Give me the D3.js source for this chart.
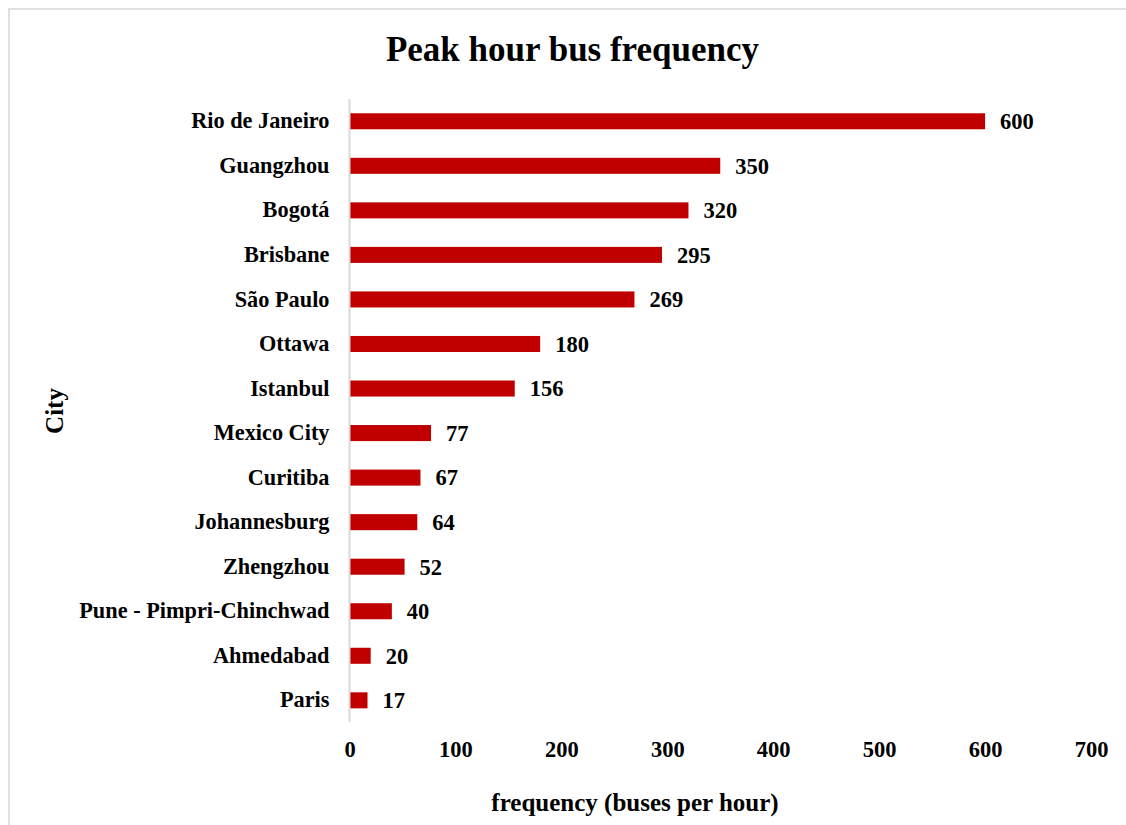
<!DOCTYPE html>
<html>
<head>
<meta charset="utf-8">
<script src="https://cdn.jsdelivr.net/npm/d3@7"></script>
<style>
  html, body { margin: 0; padding: 0; background: #fff; }
  svg { display: block; }
  text { font-family: "Liberation Serif", "Times New Roman", serif; font-weight: bold; fill: #000; }
</style>
</head>
<body>
<script>
const cities = ["Rio de Janeiro","Guangzhou","Bogotá","Brisbane","São Paulo","Ottawa","Istanbul","Mexico City","Curitiba","Johannesburg","Zhengzhou","Pune - Pimpri-Chinchwad","Ahmedabad","Paris"];
const frequency = [600,350,320,295,269,180,156,77,67,64,52,40,20,17];
const xTicks = [0,100,200,300,400,500,600,700];
const titleText = "Peak hour bus frequency";
const xTitle = "frequency (buses per hour)";
const yTitle = "City";

const W = 1126, H = 825;
const svg = d3.select("body").append("svg").attr("width", W).attr("height", H);

// outer chart border
svg.append("rect")
  .attr("x", 9).attr("y", 9).attr("width", W + 20).attr("height", H + 20)
  .attr("fill", "none").attr("stroke", "#d9d9d9").attr("stroke-width", 1.6);

const x = d3.scaleLinear().domain([0, 700]).range([349.5, 1091]);
const y = d3.scaleBand().domain(cities).range([99, 722.6]).paddingInner(0.64).paddingOuter(0.32);

// title
svg.append("text").attr("x", 572.5).attr("y", 60.5).attr("text-anchor", "middle")
  .style("font-size", "35px").text(titleText);

// bars
svg.selectAll("rect.bar").data(cities).enter().append("rect")
  .attr("class", "bar")
  .attr("x", x(0))
  .attr("y", d => y(d))
  .attr("width", (d, i) => x(frequency[i]) - x(0))
  .attr("height", y.bandwidth())
  .attr("fill", "#C00000");

// y axis line
svg.append("line").attr("x1", 349.5).attr("x2", 349.5).attr("y1", 99).attr("y2", 722)
  .attr("stroke", "#d9d9d9").attr("stroke-width", 2);

// category labels
const yAxis = d3.axisLeft(y).tickSize(0).tickPadding(20);
const gy = svg.append("g").attr("transform", "translate(349.5,0)").call(yAxis);
gy.select(".domain").remove();
gy.selectAll("text").style("font-size", "22.3px").attr("font-family", null).attr("font-size", null);

// value labels
svg.selectAll("text.val").data(cities).enter().append("text")
  .attr("class", "val")
  .attr("x", (d, i) => x(frequency[i]) + 15)
  .attr("y", d => y(d) + y.bandwidth() / 2)
  .attr("dy", "0.35em")
  .style("font-size", "22.5px")
  .text((d, i) => frequency[i]);

// x axis tick labels
const xAxis = d3.axisBottom(x).tickValues(xTicks).tickSize(0).tickPadding(0);
const gx = svg.append("g").attr("transform", "translate(0,757)").call(xAxis);
gx.select(".domain").remove();
gx.selectAll("text").attr("dy", "0").attr("y", 0).style("font-size", "22.5px")
  .attr("font-family", null).attr("font-size", null);

// axis titles
svg.append("text").attr("x", 635).attr("y", 811).attr("text-anchor", "middle")
  .style("font-size", "25px").text(xTitle);
svg.append("text").attr("transform", "translate(63,411) rotate(-90)").attr("text-anchor", "middle")
  .style("font-size", "25px").text(yTitle);
</script>
</body>
</html>
